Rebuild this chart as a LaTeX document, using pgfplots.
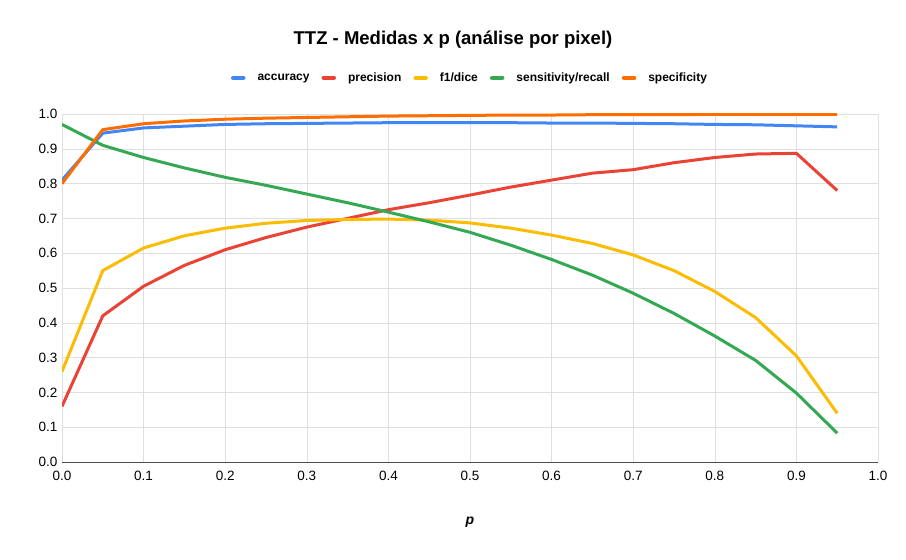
\documentclass[border=0pt]{standalone}
\usepackage{pgfplots}
\pgfplotsset{compat=1.18}
\usepackage{fontspec}
\setmainfont{Liberation Sans}
\definecolor{cacc}{HTML}{4285F4}
\definecolor{cpre}{HTML}{EA4335}
\definecolor{cf1}{HTML}{FBBC04}
\definecolor{csen}{HTML}{34A853}
\definecolor{cspe}{HTML}{FF6D01}
\begin{document}
\begin{tikzpicture}[x=1pt,y=1pt]
\useasboundingbox (0,0) rectangle (906,560);
\node[font=\bfseries\fontsize{18.5}{22}\selectfont] at (453,520) {TTZ - Medidas x p (análise por pixel)};
\node[font=\itshape\bfseries\fontsize{14}{16}\selectfont] at (470,38) {p};
\begin{axis}[at={(62pt,98pt)}, anchor=south west, scale only axis, width=816pt, height=348pt,
 xmin=0, xmax=1, ymin=0, ymax=1,
 xtick={0,0.1,...,1.01}, ytick={0,0.1,...,1.01},
 grid=major, grid style={gray!25},
 axis line style={draw=none}, tick style={draw=none},
 extra y ticks={0}, extra y tick labels={}, extra y tick style={grid style={black!70,line width=0.8pt}},
 ticklabel style={font=\fontsize{13.5}{15}\selectfont},
 xticklabel style={yshift=-6pt}, yticklabel style={xshift=-1pt},
 /pgf/number format/assume math mode=true,
 /pgf/number format/.cd, fixed, fixed zerofill, precision=1, /pgfplots/.cd,
 legend columns=-1,
 legend style={at={(0.5,1.104)}, anchor=center, draw=none, font=\bfseries\fontsize{12}{14}\selectfont, column sep=10pt},
 legend image code/.code={\draw[line width=4.5pt,line cap=round] (0pt,0pt) -- (10pt,0pt);},
 every axis plot/.append style={line width=3pt, line join=round, no marks},
]
\addplot[cacc] table[row sep=\\]{x y\\0 0.81\\0.05 0.945\\0.1 0.96\\0.15 0.965\\0.2 0.97\\0.25 0.972\\0.3 0.973\\0.35 0.974\\0.4 0.975\\0.45 0.975\\0.5 0.975\\0.55 0.975\\0.6 0.974\\0.65 0.974\\0.7 0.973\\0.75 0.972\\0.8 0.970\\0.85 0.969\\0.9 0.966\\0.95 0.963\\};
\addlegendentry{accuracy}
\addplot[cpre] table[row sep=\\]{x y\\0 0.16\\0.05 0.42\\0.1 0.505\\0.15 0.565\\0.2 0.61\\0.25 0.645\\0.3 0.675\\0.35 0.70\\0.4 0.725\\0.45 0.745\\0.5 0.767\\0.55 0.79\\0.6 0.81\\0.65 0.83\\0.7 0.84\\0.75 0.86\\0.8 0.875\\0.85 0.885\\0.9 0.887\\0.95 0.78\\};
\addlegendentry{precision}
\addplot[cf1] table[row sep=\\]{x y\\0 0.26\\0.05 0.55\\0.1 0.615\\0.15 0.65\\0.2 0.672\\0.25 0.686\\0.3 0.694\\0.35 0.697\\0.4 0.698\\0.45 0.695\\0.5 0.687\\0.55 0.672\\0.6 0.652\\0.65 0.628\\0.7 0.595\\0.75 0.55\\0.8 0.49\\0.85 0.415\\0.9 0.305\\0.95 0.14\\};
\addlegendentry{f1/dice}
\addplot[csen] table[row sep=\\]{x y\\0 0.97\\0.05 0.91\\0.1 0.875\\0.15 0.845\\0.2 0.818\\0.25 0.795\\0.3 0.77\\0.35 0.745\\0.4 0.718\\0.45 0.69\\0.5 0.66\\0.55 0.623\\0.6 0.582\\0.65 0.537\\0.7 0.485\\0.75 0.427\\0.8 0.362\\0.85 0.292\\0.9 0.198\\0.95 0.083\\};
\addlegendentry{sensitivity/recall}
\addplot[cspe] table[row sep=\\]{x y\\0 0.80\\0.05 0.955\\0.1 0.972\\0.15 0.98\\0.2 0.985\\0.25 0.988\\0.3 0.99\\0.35 0.992\\0.4 0.994\\0.45 0.995\\0.5 0.996\\0.55 0.997\\0.6 0.997\\0.65 0.998\\0.7 0.998\\0.75 0.998\\0.8 0.999\\0.85 0.999\\0.9 0.999\\0.95 0.999\\};
\addlegendentry{specificity}
\end{axis}
\end{tikzpicture}
\end{document}
